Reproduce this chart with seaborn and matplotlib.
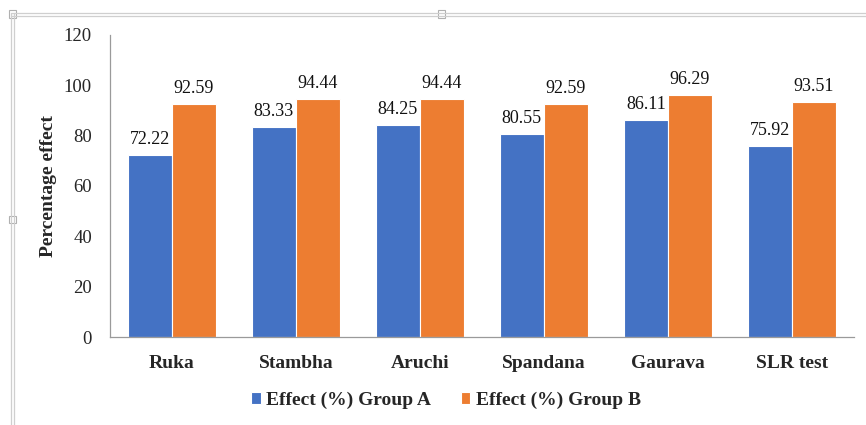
import matplotlib
matplotlib.use("Agg")
import matplotlib.pyplot as plt
from matplotlib.lines import Line2D
from matplotlib.patches import Rectangle
import seaborn as sns
import pandas as pd

categories = ["Ruka", "Stambha", "Aruchi", "Spandana", "Gaurava", "SLR test"]
group_a = [72.22, 83.33, 84.25, 80.55, 86.11, 75.92]
group_b = [92.59, 94.44, 94.44, 92.59, 96.29, 93.51]
series_names = ["Effect (%) Group A", "Effect (%) Group B"]
y_ticks = [0, 20, 40, 60, 80, 100, 120]

df = pd.DataFrame({
    "category": categories * 2,
    "value": group_a + group_b,
    "series": [series_names[0]] * len(categories) + [series_names[1]] * len(categories),
})

sns.set_theme(style="white")
plt.rcParams["font.family"] = ["Liberation Serif", "DejaVu Serif"]

fig = plt.figure(figsize=(8.66, 4.25), dpi=100)
ax = fig.add_axes([0.127, 0.207, 0.859, 0.711])

palette = {series_names[0]: "#4472C4", series_names[1]: "#ED7D31"}
sns.barplot(data=df, x="category", y="value", hue="series", palette=palette,
            width=0.71, edgecolor="white", linewidth=0.8, saturation=1,
            legend=True, ax=ax)

for container in ax.containers:
    ax.bar_label(container, fmt="%.2f", padding=5, fontsize=13, color="#111111")

ax.set_ylim(0, 120)
ax.set_yticks(y_ticks)
ax.set_xlim(-0.5, len(categories) - 0.5)
ax.set_xlabel("")
ax.set_ylabel("Percentage effect", fontsize=14, fontweight="bold")
ax.yaxis.set_label_coords(-0.071, 0.5)
ax.tick_params(axis="y", labelsize=13.5, length=0, pad=13)
ax.tick_params(axis="x", labelsize=14, length=0, pad=13)
for lbl in ax.get_xticklabels():
    lbl.set_fontweight("bold")

for side in ["top", "right"]:
    ax.spines[side].set_visible(False)
for side in ["left", "bottom"]:
    ax.spines[side].set_color("#9a9a9a")
    ax.spines[side].set_linewidth(0.9)

handles, labels = ax.get_legend_handles_labels()
ax.get_legend().remove()
fig.legend(handles, labels, loc="center", bbox_to_anchor=(0.515, 0.058), ncol=2,
           frameon=False, handlelength=0.5, handleheight=0.5, handletextpad=0.3,
           columnspacing=1.5, prop={"size": 14, "weight": "bold"})

# outer chart frame
W, H = 866, 425
for yy in (12.5, 15.5):
    fig.add_artist(Line2D([11 / W, 1.0], [1 - yy / H, 1 - yy / H], color="#cfcfcf", lw=0.9))
for xx in (10.5, 13.5):
    fig.add_artist(Line2D([xx / W, xx / W], [0, 1 - 12.5 / H], color="#cfcfcf", lw=0.9))
for hx, hy in [(12, 14), (441, 14), (12, 219)]:
    fig.add_artist(Rectangle(((hx - 3.5) / W, 1 - (hy + 3.5) / H), 7 / W, 7 / H,
                             facecolor="white", edgecolor="#b0b0b0", lw=0.8,
                             transform=fig.transFigure))

fig.savefig("out.png", dpi=100)
